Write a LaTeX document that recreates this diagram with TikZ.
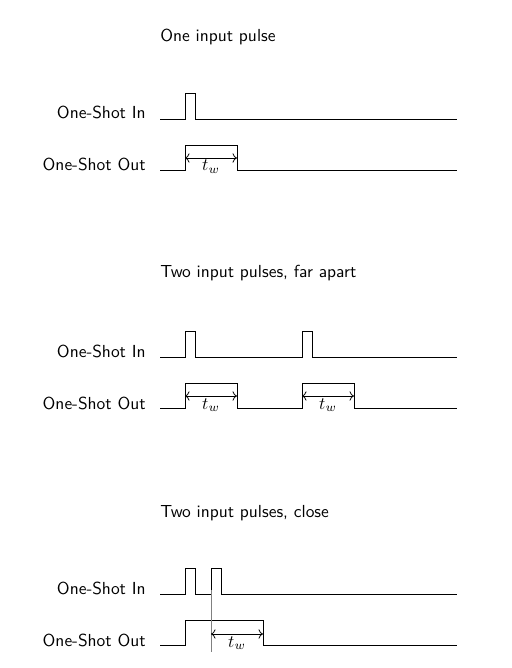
\documentclass[tikz,border=0pt]{standalone}
\usetikzlibrary{arrows.meta}
\begin{document}
\begin{tikzpicture}[x=0.574pt,y=-0.574pt,
  sig/.style={line width=0.45pt},
  lbl/.style={font=\sffamily,anchor=base east,inner sep=0pt},
  ttl/.style={font=\sffamily,anchor=base west,inner sep=0pt},
  dim/.style={line width=0.45pt,<->},
  twl/.style={anchor=base,inner sep=0pt},
  guide/.style={line width=0.3pt,gray}]
\useasboundingbox (0,0) rectangle (512,668);

% ---------- Section 1 ----------
\node[ttl] (t1) at (160,42) {One input pulse};
\node[lbl] (l1a) at (146,119) {One-Shot In};
\node[lbl] (l1b) at (146,171) {One-Shot Out};
\draw[sig] (160,119) -- (185,119) -- (185,93) -- (195,93) -- (195,119) -- (457,119);
\draw[sig] (160,170) -- (185,170) -- (185,145) -- (237,145) -- (237,170) -- (457,170);
\coordinate (a1) at (185,158);
\coordinate (b1) at (237,158);
\draw[dim] (a1) -- (b1);
\node[twl] (w1) at (211,171) {$t_w$};

% ---------- Section 2 ----------
\node[ttl] (t2) at (160,278) {Two input pulses, far apart};
\node[lbl] (l2a) at (146,357) {One-Shot In};
\node[lbl] (l2b) at (146,409) {One-Shot Out};
\draw[sig] (160,357) -- (185,357) -- (185,331) -- (195,331) -- (195,357)
  -- (302,357) -- (302,331) -- (312,331) -- (312,357) -- (457,357);
\draw[sig] (160,408) -- (185,408) -- (185,383) -- (237,383) -- (237,408)
  -- (302,408) -- (302,383) -- (354,383) -- (354,408) -- (457,408);
\coordinate (a2) at (185,396);
\coordinate (b2) at (237,396);
\coordinate (c2) at (302,396);
\coordinate (d2) at (354,396);
\draw[dim] (a2) -- (b2);
\draw[dim] (c2) -- (d2);
\node[twl] (w2) at (211,409) {$t_w$};
\node[twl] (w3) at (328,409) {$t_w$};

% ---------- Section 3 ----------
\node[ttl] (t3) at (160,517) {Two input pulses, close};
\node[lbl] (l3a) at (146,594) {One-Shot In};
\node[lbl] (l3b) at (146,646) {One-Shot Out};
\draw[sig] (160,594) -- (185,594) -- (185,568) -- (195,568) -- (195,594)
  -- (211,594) -- (211,568) -- (221,568) -- (221,594) -- (457,594);
\draw[sig] (160,645) -- (185,645) -- (185,620) -- (263,620) -- (263,645) -- (457,645);
\coordinate (g1) at (211,590);
\coordinate (g2) at (211,652);
\draw[guide] (g1) -- (g2);
\coordinate (a3) at (211,634);
\coordinate (b3) at (263,634);
\draw[dim] (a3) -- (b3);
\node[twl] (w4) at (237,647) {$t_w$};
\end{tikzpicture}
\end{document}
